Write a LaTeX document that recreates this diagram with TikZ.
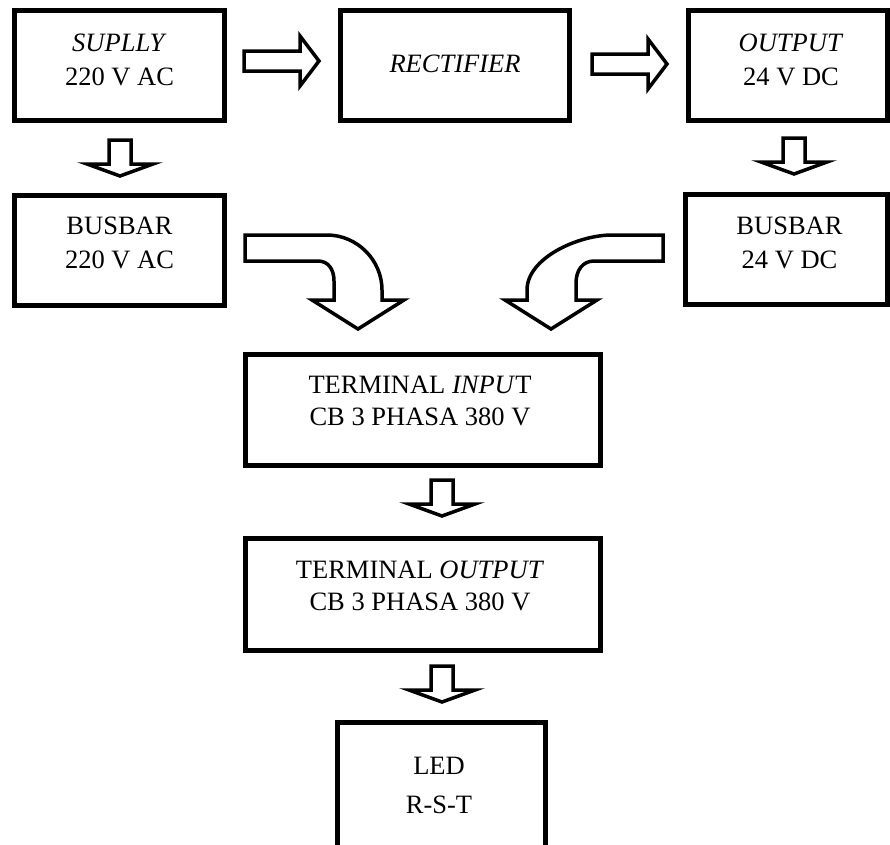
\documentclass[tikz,border=0pt]{standalone}
\usepackage{fontspec}
\setmainfont{Liberation Serif}
\usetikzlibrary{positioning}

\tikzset{
  blk/.style={draw, line width=4.5pt, outer sep=0pt, inner sep=0pt},
  lbl/.style={align=center, inner sep=0pt, font=\fontsize{26.5}{34}\selectfont},
  blockarrow/.style={draw, fill=white, line width=3.5pt, line join=miter},
  rarrow/.pic={\path[blockarrow] (0,-10) -- (56,-10) -- (56,-25) -- (75,0) -- (56,25) -- (56,10) -- (0,10) -- cycle;},
  darrow/.pic={\path[blockarrow] (-11,0) -- (-11,24) -- (-33,24) -- (0,36) -- (33,24) -- (11,24) -- (11,0) -- cycle;}
}

\begin{document}
\begin{tikzpicture}[x=1pt, y=-1pt]
    \useasboundingbox (0,0) rectangle (890,844);

    % top row
    \node[blk, minimum width=210, minimum height=110] (supply) at (119.5,65.5) {};
    \node[blk, minimum width=229, minimum height=110] (rectifier) at (455,65.5) {};
    \node[blk, minimum width=199, minimum height=110] (output) at (788,65.5) {};
    \node[lbl] (supply-txt) at ([yshift=6pt]supply.center) {\textit{SUPLLY}\\220 V AC};
    \node[lbl] (rectifier-txt) at ([yshift=1.5pt]rectifier.center) {\textit{RECTIFIER}};
    \node[lbl] (output-txt) at ([xshift=3pt, yshift=6pt]output.center) {\textit{OUTPUT}\\24 V DC};

    % busbars
    \node[blk, minimum width=210, minimum height=110] (busac) at (119.5,250.5) {};
    \node[blk, minimum width=202, minimum height=110] (busdc) at (786.5,249.5) {};
    \node[lbl] (busac-txt) at ([yshift=8pt]busac.center) {BUSBAR\\220 V AC};
    \node[lbl] (busdc-txt) at ([xshift=3pt, yshift=7pt]busdc.center) {BUSBAR\\24 V DC};

    % terminals
    \node[blk, minimum width=355, minimum height=111] (tin) at (423,410) {};
    \node[blk, minimum width=355, minimum height=112] (tout) at (423,594.5) {};
    \node[lbl, font=\fontsize{26.5}{32}\selectfont] (tin-txt) at ([xshift=-3pt, yshift=9pt]tin.center) {TERMINAL \textit{INPU}T\\CB 3 PHASA 380 V};
    \node[lbl, font=\fontsize{26.5}{32}\selectfont] (tout-txt) at ([xshift=-3pt, yshift=9pt]tout.center) {TERMINAL \textit{OUTPUT}\\CB 3 PHASA 380 V};

    % lamp
    \node[blk, minimum width=208, minimum height=150] (led) at (441.5,797.5) {};
    \node[lbl, font=\fontsize{26.5}{39}\selectfont] (led-txt) at ([xshift=-2.5pt, yshift=12.5pt]led.center) {LED\\R-S-T};

    % block arrows
    \pic at (244,61) {rarrow};
    \pic at (592,64) {rarrow};
    \pic at (120,140) {darrow};
    \pic at (794,138) {darrow};
    \pic at (442,480) {darrow};
    \pic at (442,666) {darrow};

    % bent arrows into the input terminal
    \path[blockarrow] (245,235) -- (327,235) .. controls (357,235) and (382,260) .. (382,290)
        -- (382,300) -- (404,300) -- (358,329) -- (312,300) -- (334,300) -- (334,281)
        .. controls (334,269) and (328,261) .. (318,261) -- (245,261) -- cycle;
    \path[blockarrow] (663,235) -- (612,235) .. controls (578,235) and (527,258) .. (527,290)
        -- (527,300) -- (505,300) -- (551,329) -- (597,300) -- (576,300) -- (576,283)
        .. controls (576,270) and (583,261) .. (594,261) -- (663,261) -- cycle;
\end{tikzpicture}
\end{document}
